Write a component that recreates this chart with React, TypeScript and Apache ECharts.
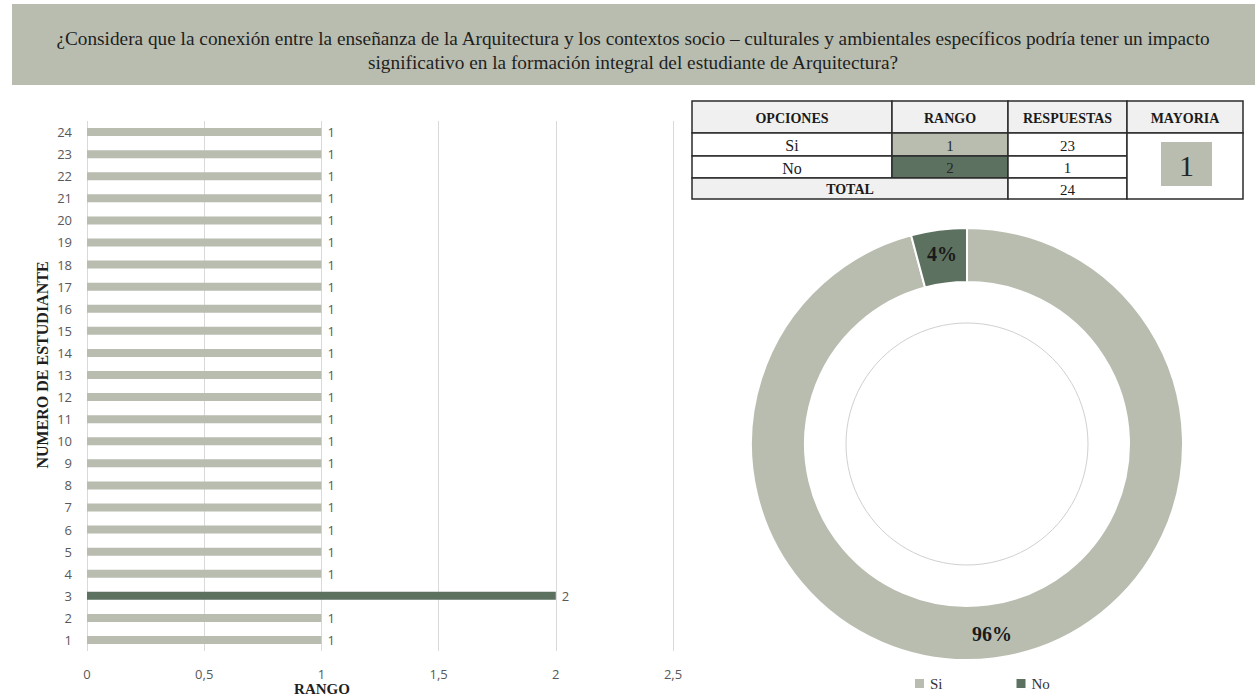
import React, { useEffect, useRef } from "react";
import * as echarts from "echarts";

const titleLines = [
  "¿Considera que la conexión entre la enseñanza de la Arquitectura y los contextos socio – culturales y ambientales específicos podría tener un impacto",
  "significativo en la formación integral del estudiante de Arquitectura?",
];
const estudiantes = Array.from({ length: 24 }, (_, i) => String(i + 1));
const rangoPorEstudiante = [1, 1, 2, 1, 1, 1, 1, 1, 1, 1, 1, 1, 1, 1, 1, 1, 1, 1, 1, 1, 1, 1, 1, 1];
const opciones = ["Si", "No"];
const rangos = [1, 2];
const respuestas = [23, 1];
const headers = ["OPCIONES", "RANGO", "RESPUESTAS", "MAYORIA"];
const mayoria = 1;

const LIGHT = "#b8bdb0";
const DARK = "#5c7160";
const SERIF = "Liberation Serif";
const SANS = "Open Sans";

export default function App() {
  const ref = useRef<HTMLDivElement>(null);
  useEffect(() => {
    document.body.style.margin = "0";
    if (!ref.current) return;
    const chart = echarts.init(ref.current, null, { renderer: "svg" });
    const total = respuestas.reduce((a, b) => a + b, 0);

    const colX = [692, 892, 1008, 1127, 1243];
    const rowY = [101, 133, 156, 178, 199];
    const border = { stroke: "#2b2b2b", lineWidth: 1.5 };
    const tbl: any[] = [];
    const cell = (x0: number, y0: number, x1: number, y1: number, fill: string) =>
      tbl.push({ type: "rect", shape: { x: x0, y: y0, width: x1 - x0, height: y1 - y0 }, style: { fill, ...border } });
    const txt = (x: number, y: number, t: string, size: number, bold: boolean, fill = "#1a1a1a") =>
      tbl.push({
        type: "text", x, y,
        style: { text: t, fontFamily: SERIF, fontSize: size, fontWeight: bold ? "bold" : "normal", fill, align: "center", verticalAlign: "middle" },
      });
    headers.forEach((h, i) => {
      cell(colX[i], rowY[0], colX[i + 1], rowY[1], "#f0f0f0");
      txt((colX[i] + colX[i + 1]) / 2, (rowY[0] + rowY[1]) / 2 + 1, h, 14, true);
    });
    opciones.forEach((o, r) => {
      const y0 = rowY[r + 1], y1 = rowY[r + 2], cy = (y0 + y1) / 2 + 1;
      cell(colX[0], y0, colX[1], y1, "#ffffff");
      txt((colX[0] + colX[1]) / 2, cy, o, 16, false);
      cell(colX[1], y0, colX[2], y1, r === 0 ? LIGHT : DARK);
      txt((colX[1] + colX[2]) / 2, cy, String(rangos[r]), 15, false, "#262626");
      cell(colX[2], y0, colX[3], y1, "#ffffff");
      txt((colX[2] + colX[3]) / 2, cy, String(respuestas[r]), 15, false);
    });
    cell(colX[0], rowY[3], colX[2], rowY[4], "#f0f0f0");
    txt((colX[0] + colX[2]) / 2, (rowY[3] + rowY[4]) / 2 + 1, "TOTAL", 14, true);
    cell(colX[2], rowY[3], colX[3], rowY[4], "#ffffff");
    txt((colX[2] + colX[3]) / 2, (rowY[3] + rowY[4]) / 2 + 1, String(total), 15, false);
    cell(colX[3], rowY[1], colX[4], rowY[4], "#ffffff");
    tbl.push({ type: "rect", shape: { x: 1161, y: 142, width: 51, height: 44 }, style: { fill: LIGHT } });
    txt(1186.5, 165, String(mayoria), 30, false, "#262626");

    const t = (x: number, y: number, text: string, size: number, bold: boolean, extra: any = {}) => ({
      type: "text", x, y, ...extra,
      style: { text, fontFamily: SERIF, fontSize: size, fontWeight: bold ? "bold" : "normal", fill: "#1f1f1f", align: "center", verticalAlign: "middle" },
    });

    chart.setOption({
      animation: false,
      backgroundColor: "#ffffff",
      graphic: [
        { type: "rect", shape: { x: 12, y: 4, width: 1243, height: 81 }, style: { fill: LIGHT } },
        t(633, 38, titleLines[0], 19.3, false),
        t(633, 62, titleLines[1], 19.3, false),
        t(42, 365, "NUMERO DE ESTUDIANTE", 16, true, { rotation: Math.PI / 2 }),
        t(322, 689, "RANGO", 15, true),
        { type: "circle", shape: { cx: 967, cy: 444, r: 121 }, style: { fill: "none", stroke: "#d0d0d0", lineWidth: 1 } },
        ...tbl,
      ],
      grid: { left: 87, right: 582, top: 121, bottom: 47, containLabel: false },
      xAxis: {
        type: "value", min: 0, max: 2.5, interval: 0.5,
        axisLine: { show: false }, axisTick: { show: false },
        splitLine: { show: true, lineStyle: { color: "#d9d9d9", width: 1 } },
        axisLabel: { color: "#595959", fontSize: 13, fontFamily: SANS, margin: 16, formatter: (v: number) => String(v).replace(".", ",") },
      },
      yAxis: {
        type: "category", data: estudiantes,
        axisLine: { show: false }, axisTick: { show: false },
        axisLabel: { color: "#595959", fontSize: 13, fontFamily: SANS, margin: 15 },
      },
      legend: {
        data: opciones, left: 908, top: 671, itemWidth: 11, itemHeight: 11, itemGap: 72, icon: "rect",
        textStyle: { fontFamily: SERIF, fontSize: 15, color: "#333" },
      },
      series: [
        {
          type: "bar", barWidth: 8,
          data: rangoPorEstudiante.map((v) => ({ value: v, itemStyle: { color: v === 2 ? DARK : LIGHT } })),
          label: { show: true, position: "right", distance: 6, color: "#595959", fontSize: 13, fontFamily: SANS },
        },
        {
          type: "pie", center: [967, 444], radius: [162, 216], startAngle: 90, clockwise: true,
          itemStyle: { borderColor: "#ffffff", borderWidth: 2 },
          label: {
            show: true, position: "inside",
            formatter: (p: any) => Math.round(p.percent) + "%",
            fontFamily: SERIF, fontSize: 20, fontWeight: "bold", color: "#1a1a1a",
          },
          labelLine: { show: false },
          emphasis: { disabled: true },
          data: opciones.map((o, i) => ({ name: o, value: respuestas[i], itemStyle: { color: i === 0 ? LIGHT : DARK } })),
        },
      ],
    });
    return () => chart.dispose();
  }, []);
  return <div ref={ref} style={{ width: 1255, height: 698 }} />;
}
